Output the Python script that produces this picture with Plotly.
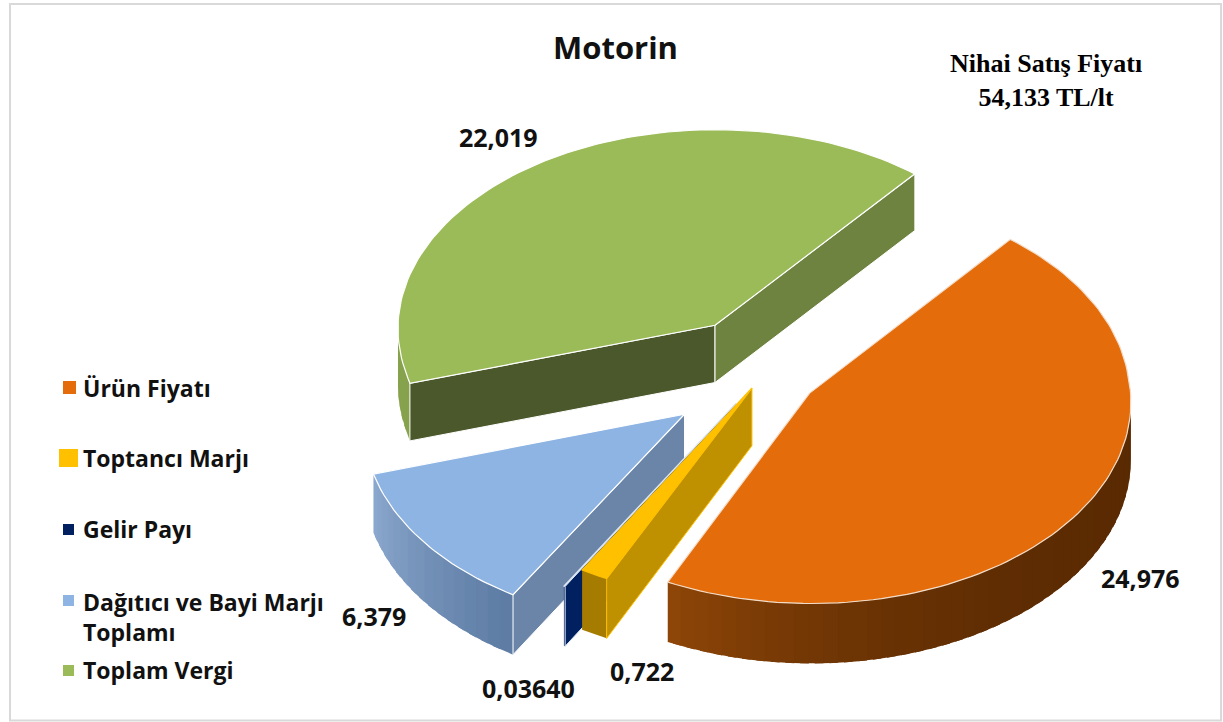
import math
import plotly.graph_objects as go

categories = ["Ürün Fiyatı", "Toptancı Marjı", "Gelir Payı", "Dağıtıcı ve Bayi Marjı<br>Toplamı", "Toplam Vergi"]
values = [24.976, 0.722, 0.0364, 6.379, 22.019]
value_labels = ["24,976", "0,722", "0,03640", "6,379", "22,019"]

# styling / layout
W, H = 1223, 722
TOP = ["#E46C0A", "#FFC000", "#002060", "#8EB4E3", "#9BBB59"]
EDGE = ["#F2DCC8", "#FFC000", "#DCE6F2", "#FFFFFF", "#FFFFFF"]
WALL_L = ["#8F4608", "#A67C00", "#002060", "#8CA8CE", "#86A24C"]
WALL_R = ["#5A2A02", "#A67C00", "#002060", "#5C7BA3", "#86A24C"]
WALL_GAMMA = [3.0, 1.0, 1.0, 1.0, 1.0]
RAD_S = ["#000000", "#BF9000", "#002060", "#6A85A8", "#4A582B"]
RAD_E = ["#6F8340", "#BF9000", "#002060", "#6A85A8", "#6F8340"]
# how far each slice is exploded and its radius, in units of the pie radius
OFFSET = [(0.147, 0.089), (-0.031, 0.064), (-0.08, 0.139), (-0.238, 0.192), (-0.146, -0.246)]
RADIUS = [0.99, 1.0, 1.0, 0.985, 0.985]
CX, CY, A, B, DEPTH, K_NEAR, K_FAR = 762, 375, 323, 203, 57.5, 0.04, 0.015
START = 39.5
LAB_POS = [(1140, 578), (642, 671), (528, 688), (374, 616), (498, 137)]
LEG_Y = [388, 458, 529, 600, 670]
SWATCH = [(63, 76, 381, 394), (59, 78, 449, 467), (63, 74, 524, 535), (63, 74, 595, 606), (63, 74, 665, 676)]


def proj(X, Y, z=0.0):
    f = 1 + (K_NEAR if Y > 0 else K_FAR) * Y
    return CX + A * X * f, CY + B * Y * f + z * DEPTH * f


def mix(c1, c2, t):
    a = [int(c1[i:i + 2], 16) for i in (1, 3, 5)]
    b = [int(c2[i:i + 2], 16) for i in (1, 3, 5)]
    return "#%02X%02X%02X" % tuple(round(u + (v - u) * t) for u, v in zip(a, b))


def poly(fig, pts, fill, line=None, width=1.0, name=""):
    xs = [p[0] for p in pts] + [pts[0][0]]
    ys = [p[1] for p in pts] + [pts[0][1]]
    fig.add_trace(go.Scatter(
        x=xs, y=ys, mode="lines", fill="toself", fillcolor=fill,
        line=dict(color=line or fill, width=width if line else 0),
        hoverinfo="text", text=name, showlegend=False))


fig = go.Figure()
total = sum(values)
angles = []
t = START
for v in values:
    angles.append((t, t + v / total * 360))
    t += v / total * 360


def draw_slice(i):
    s, e = angles[i]
    px, py = OFFSET[i]
    rad = RADIUS[i]

    def rim(d):
        r = math.radians(d)
        return px + rad * math.sin(r), py - rad * math.cos(r)

    apex = (px, py)
    name = categories[i]
    # outer wall, in shaded strips, only the part facing the viewer
    lo, hi = max(s, 90), min(e, 270)
    if hi > lo:
        n = max(1, int((hi - lo) / 2.5))
        for j in range(n):
            d0 = lo + (hi - lo) * j / n
            d1 = min(hi, lo + (hi - lo) * (j + 1.6) / n)
            X0, Y0 = rim(d0)
            X1, Y1 = rim(d1)
            x_mid = ((j + 0.5) / n) ** WALL_GAMMA[i]
            col = mix(WALL_R[i], WALL_L[i], x_mid)
            poly(fig, [proj(X0, Y0), proj(X1, Y1), proj(X1, Y1, 1), proj(X0, Y0, 1)], col, name=name)
    # radial walls facing the viewer, outlined like the top face
    if -math.sin(math.radians(s)) > 0:
        X, Y = rim(s)
        poly(fig, [proj(*apex), proj(X, Y), proj(X, Y, 1), proj(*apex, 1)], RAD_S[i],
             line=EDGE[i], width=1.0, name=name)
    if math.sin(math.radians(e)) > 0:
        X, Y = rim(e)
        poly(fig, [proj(*apex), proj(X, Y), proj(X, Y, 1), proj(*apex, 1)], RAD_E[i],
             line=EDGE[i], width=1.0, name=name)
    # top face
    n = max(2, int((e - s) / 1.5))
    pts = [proj(*apex)] + [proj(*rim(s + (e - s) * j / n)) for j in range(n + 1)]
    poly(fig, pts, TOP[i], line=EDGE[i], width=1.2, name=name)


for i in [4, 3, 2, 1, 0]:
    draw_slice(i)

ann = []
for txt, (x, y) in zip(value_labels, LAB_POS):
    ann.append(dict(x=x, y=y, text=f"<b>{txt}</b>", showarrow=False, xref="x", yref="y",
                    font=dict(family="Open Sans", size=25, color="#111111")))
for cat, y in zip(categories, LEG_Y):
    ann.append(dict(x=81, y=y if "<br>" not in cat else y + 17, text=f"<b>{cat}</b>", showarrow=False, xref="x", yref="y",
                    xanchor="left", align="left",
                    font=dict(family="Open Sans", size=23, color="#111111")))
ann.append(dict(x=615, y=47, text="<b>Motorin</b>", showarrow=False, xref="x", yref="y",
                font=dict(family="Open Sans", size=31, color="#111111")))
ann.append(dict(x=1046, y=80, text="<b>Nihai Satış Fiyatı<br>54,133 TL/lt</b>", showarrow=False,
                xref="x", yref="y", font=dict(family="Liberation Serif", size=26, color="#000000")))

shapes = [dict(type="rect", x0=10, x1=1221, y0=4, y1=720.5, xref="x", yref="y",
               line=dict(color="#D9D9D9", width=2), layer="below")]
for c, (x0, x1, y0, y1) in zip(TOP, SWATCH):
    shapes.append(dict(type="rect", x0=x0, x1=x1, y0=y0, y1=y1, xref="x", yref="y",
                       fillcolor=c, line=dict(color=c, width=0)))

fig.update_layout(
    width=W, height=H, margin=dict(l=0, r=0, t=0, b=0), autosize=False,
    paper_bgcolor="white", plot_bgcolor="white", showlegend=False,
    xaxis=dict(range=[0, W], visible=False, fixedrange=True),
    yaxis=dict(range=[H, 0], visible=False, fixedrange=True),
    annotations=ann, shapes=shapes,
)
fig.write_html("out.html", config={"displayModeBar": False},
               post_script="document.body.style.margin='0';document.body.style.overflow='hidden';")
